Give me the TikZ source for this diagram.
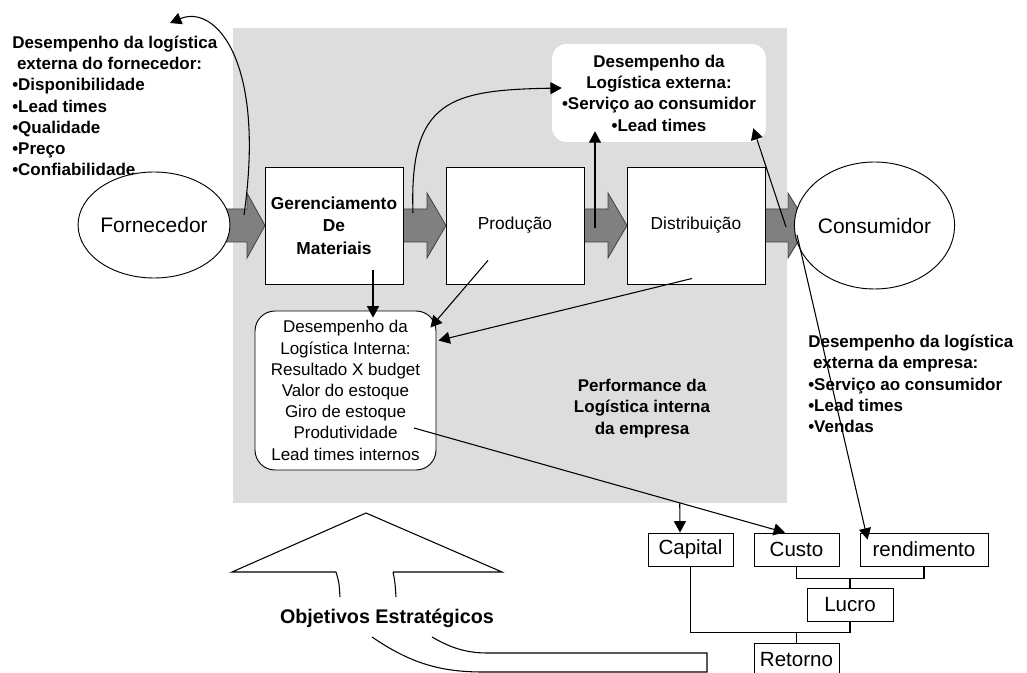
\documentclass[tikz,border=0pt]{standalone}
\usepackage{fontspec}
\setmainfont{Liberation Sans}
\usetikzlibrary{shapes.geometric,arrows.meta,calc}
\definecolor{bgc}{HTML}{DDDDDD}
\definecolor{fatc}{HTML}{808080}
\begin{document}
\begin{tikzpicture}[x=0.75pt,y=-0.75pt,
  conn/.style={line width=0.8pt},
  connar/.style={line width=0.8pt,-{Triangle[length=8.5pt,width=9pt]}},
  fatarr/.style={draw=black!75,fill=fatc,line width=0.6pt},
  ellnode/.style={ellipse,draw,fill=white,line width=0.7pt,inner sep=0pt,font=\fontsize{15.75}{18}\selectfont},
  procbox/.style={draw,fill=white,line width=0.7pt,minimum width=103.5pt,minimum height=87.75pt,inner sep=0pt,align=center},
  smallbox/.style={draw,fill=white,line width=0.7pt,minimum height=24.75pt,inner sep=0pt,font=\fontsize{15.4}{17}\selectfont},
  boldtxt/.style={inner sep=0pt,align=left,font=\bfseries\fontsize{12.75}{15.9}\selectfont},
  plaintxt/.style={inner sep=0pt,align=center,font=\fontsize{12.75}{15.9}\selectfont}
]
\useasboundingbox (0,0) rectangle (1027,673);
\clip (0,0) rectangle (1027,673);

% grey background
\node[fill=bgc,inner sep=0pt,minimum width=415.5pt,minimum height=356.25pt] (bgr) at (510,265.5) {};

% fat arrows
\draw[fatarr] (215,209) -- (247,209) -- (247,193) -- (265,225.5) -- (247,258) -- (247,242) -- (215,242) -- cycle;
\draw[fatarr] (403,209) -- (427,209) -- (427,193) -- (446,225.5) -- (427,258) -- (427,242) -- (403,242) -- cycle;
\draw[fatarr] (584,209) -- (608,209) -- (608,193) -- (627,225.5) -- (608,258) -- (608,242) -- (584,242) -- cycle;
\draw[fatarr] (765,209) -- (788,209) -- (788,193) -- (808,225.5) -- (788,258) -- (788,242) -- (765,242) -- cycle;

% main nodes
\node[ellnode,minimum width=102.75pt,minimum height=79.5pt] (forn) at (154,225) {Fornecedor};
\node[ellnode,minimum width=104.25pt,minimum height=95.25pt] (cons) at (874.5,225.5) {Consumidor};
\node[procbox,font=\bfseries\fontsize{13}{16.9}\selectfont] (ger) at (334,225.5) {Gerenciamento\\De\\Materiais};
\node[procbox,font=\fontsize{13}{16}\selectfont] (prod) at (515,225.5) {Produção};
\node[procbox,font=\fontsize{13}{16}\selectfont] (dist) at (696,225.5) {Distribuição};

\node[fill=white,rounded corners=11pt,minimum width=160.5pt,minimum height=73.5pt,inner sep=0pt,
      align=center,font=\bfseries\fontsize{12.75}{16}\selectfont] (ext) at (659,93)
  {Desempenho da\\Logística externa:\\•Serviço ao consumidor\\•Lead times};

\node[draw,fill=white,line width=0.7pt,rounded corners=15pt,minimum width=135.75pt,minimum height=119.25pt,inner sep=0pt,
      align=center,font=\fontsize{12.75}{15.9}\selectfont] (intb) at (345.5,390.5)
  {Desempenho da\\Logística Interna:\\Resultado X budget\\Valor do estoque\\Giro de estoque\\Produtividade\\Lead times internos};

\node[boldtxt,align=center,font=\bfseries\fontsize{12.75}{16.1}\selectfont] (perf) at (642,408.5)
  {Performance da\\Logística interna\\da empresa};

% side texts
\node[boldtxt,anchor=west] (ltxt) at (12,106)
  {Desempenho da logística\\\hspace*{0.28em}externa do fornecedor:\\•Disponibilidade\\•Lead times\\•Qualidade\\•Preço\\•Confiabilidade};
\node[boldtxt,anchor=west] (rtxt) at (808,384)
  {Desempenho da logística\\\hspace*{0.28em}externa da empresa:\\•Serviço ao consumidor\\•Lead times\\•Vendas};

% bottom-right boxes
\node[smallbox,minimum width=63.75pt] (cap) at (690.5,549.5) {Capital};
\node[smallbox,minimum width=63.75pt] (custo) at (796.5,549.5) {Custo};
\node[smallbox,minimum width=96pt] (rend) at (924,549.5) {rendimento};
\node[smallbox,minimum width=64.5pt] (lucro) at (850,604.5) {Lucro};
\node[smallbox,minimum width=63.75pt] (ret) at (796.5,660) {Retorno};

% tree connectors
\draw[conn] (custo.south) -- ++(0,12) -| (rend.south);
\draw[conn] (lucro.north) -- ++(0,-10);
\draw[conn] (cap.south) -- ++(0,66) -| (lucro.south);
\draw[conn] (ret.north) -- ++(0,-11.5);

% coordinates on the fat arrows
\coordinate (a1) at (244,215);
\coordinate (a2) at (413,213);
\coordinate (a3) at (595,228);
\coordinate (a4) at (786,227);
\coordinate (a5) at (797,235);
\coordinate (t1) at (170,23);

% connectors
\draw[connar] (a1) .. controls (266,60) and (215,4) .. (t1);
\draw[connar] (a2) .. controls (409,100) and (450,90) .. ($(ext.west)+(10,-5)$);
\draw[connar] (a3) -- ($(a3 |- ext.south)+(0,-11)$);
\draw[connar] (a4) -- ($(ext.south east)+(-13,-14)$);
\draw[connar] (a5) -- ($(rend.north west)+(8,7)$);
\draw[connar] ($(ger.south)+(39,-14)$) -- ($(intb.north)+(27.5,7)$);
\draw[connar] ($(prod.south)+(-27,-24)$) -- ($(intb.north east)+(-6,17)$);
\draw[connar] ($(dist.south)+(-4,-6)$) -- ($(intb.north east)+(2,30)$);
\draw[connar] ($(intb.center)+(68.5,37.5)$) -- ($(custo.north)+(-11.5,0)$);
\draw[connar] ($(bgr.south west)+(447,0)$) -- ($(cap.north)+(-10.5,0)$);

% strategic objectives hollow arrow
\draw[conn] (336,572) -- (232,572) -- (366,513) -- (502,572) -- (393,572);
\draw[conn] (336,572) .. controls (339,582) .. (340,597);
\draw[conn] (393,572) .. controls (395,582) .. (396,597);
\draw[conn] (372,637) .. controls (410,663) and (440,672) .. (483,672) -- (707,672) -- (707,653) -- (487,653) .. controls (462,653) and (446,645) .. (432,637);
\node[inner sep=0pt,font=\bfseries\fontsize{14.8}{17}\selectfont] (obj) at (387,618) {Objetivos Estratégicos};
\end{tikzpicture}
\end{document}
